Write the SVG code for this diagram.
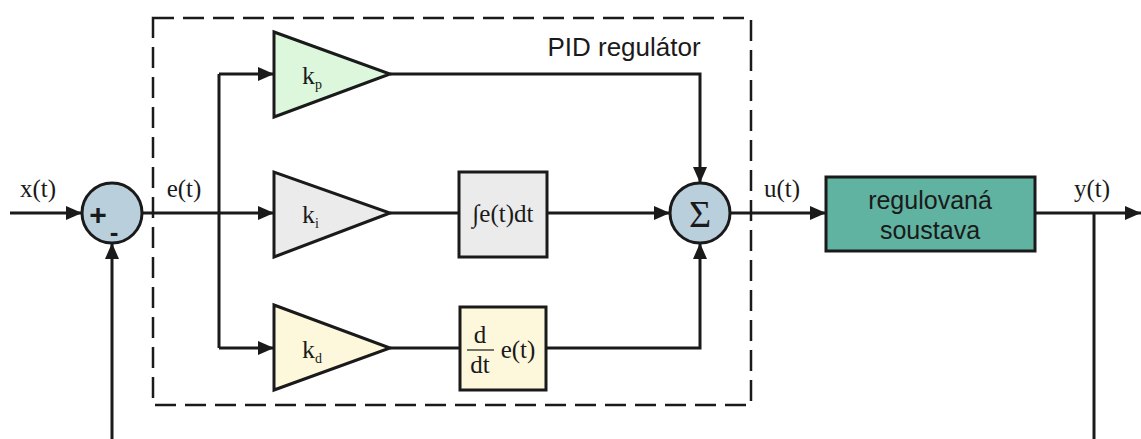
<svg xmlns="http://www.w3.org/2000/svg" width="1141" height="439" viewBox="0 0 1141 439">
<defs>
<marker id="arr" markerWidth="16" markerHeight="14" refX="16" refY="7" orient="auto" markerUnits="userSpaceOnUse">
<path d="M0,0 L16,7 L0,14 Z" fill="#1a1a1a"/>
</marker>
<style>
.ln{stroke:#1a1a1a;stroke-width:3;fill:none}
.ar{stroke:#1a1a1a;stroke-width:3;fill:none;marker-end:url(#arr)}
.sh{stroke:#1a1a1a;stroke-width:3}
.ser{font-family:"Liberation Serif",serif;fill:#1a1a1a}
.san{font-family:"Liberation Sans",sans-serif;fill:#1a1a1a}
</style>
</defs>
<rect width="1141" height="439" fill="#ffffff"/>
<g id="pid-box">
<rect x="153" y="18" width="598" height="387" fill="none" stroke="#1a1a1a" stroke-width="2.5" stroke-dasharray="21,9"/>
<text class="san" x="624" y="56" font-size="26" text-anchor="middle">PID regulátor</text>
</g>
<g id="connectors">
<line class="ar" x1="10" y1="213" x2="82" y2="213"/>
<line class="ar" x1="112" y1="439" x2="112" y2="243"/>
<line class="ln" x1="142" y1="213" x2="219" y2="213"/>
<line class="ln" x1="219" y1="74" x2="219" y2="348"/>
<line class="ar" x1="219" y1="74" x2="274" y2="74"/>
<line class="ar" x1="219" y1="213" x2="274" y2="213"/>
<line class="ar" x1="219" y1="348" x2="274" y2="348"/>
<line class="ln" x1="390" y1="213" x2="459" y2="213"/>
<line class="ar" x1="547" y1="213" x2="670" y2="213"/>
<line class="ln" x1="390" y1="348" x2="460" y2="348"/>
<polyline class="ar" points="546,348 700,348 700,243"/>
<polyline class="ar" points="390,74 700,74 700,183"/>
<line class="ar" x1="730" y1="213" x2="826" y2="213"/>
<line class="ar" x1="1035" y1="213" x2="1141" y2="213"/>
<line class="ln" x1="1094" y1="213" x2="1094" y2="439"/>
</g>
<g id="sum1">
<circle class="sh" cx="112" cy="213" r="30" fill="#b9cfdc"/>
<text class="san" x="98" y="225" font-size="30" font-weight="bold" text-anchor="middle">+</text>
<text class="san" x="114" y="241" font-size="26" font-weight="bold" text-anchor="middle">-</text>
</g>
<g id="labels">
<text class="ser" x="38" y="197" font-size="25" text-anchor="middle">x(t)</text>
<text class="ser" x="184" y="197" font-size="25" text-anchor="middle">e(t)</text>
<text class="ser" x="782" y="197" font-size="25" text-anchor="middle">u(t)</text>
<text class="ser" x="1092" y="197" font-size="25" text-anchor="middle">y(t)</text>
</g>
<g id="kp">
<polygon class="sh" points="274,32 274,117 390,74" fill="#dcf7dc"/>
<text class="ser" x="302" y="84" font-size="26">k<tspan font-size="14" dy="5">p</tspan></text>
</g>
<g id="ki">
<polygon class="sh" points="274,172 274,257 390,213" fill="#ebebeb"/>
<text class="ser" x="302" y="223" font-size="26">k<tspan font-size="14" dy="5">i</tspan></text>
</g>
<g id="kd">
<polygon class="sh" points="274,305 274,390 390,348" fill="#fdf8dc"/>
<text class="ser" x="302" y="358" font-size="26">k<tspan font-size="14" dy="5">d</tspan></text>
</g>
<g id="integral">
<rect class="sh" x="459" y="172" width="88" height="85" fill="#ebebeb"/>
<text class="ser" x="503" y="222" font-size="25" text-anchor="middle">∫e(t)dt</text>
</g>
<g id="derivative">
<rect class="sh" x="460" y="307" width="86" height="83" fill="#fdf8dc"/>
<text class="ser" x="480" y="343" font-size="25" text-anchor="middle">d</text>
<line x1="467" y1="350" x2="494" y2="350" stroke="#1a1a1a" stroke-width="1.2"/>
<text class="ser" x="480" y="373" font-size="25" text-anchor="middle">dt</text>
<text class="ser" x="518" y="358" font-size="25" text-anchor="middle">e(t)</text>
</g>
<g id="sum2">
<circle class="sh" cx="700" cy="213" r="30" fill="#b9cfdc"/>
<text class="ser" x="700" y="227" font-size="38" text-anchor="middle">Σ</text>
</g>
<g id="plant">
<rect class="sh" x="826" y="177" width="209" height="74" fill="#5fb3a0"/>
<text class="san" x="930" y="209" font-size="25" text-anchor="middle">regulovaná</text>
<text class="san" x="930" y="239" font-size="25" text-anchor="middle">soustava</text>
</g>
</svg>
